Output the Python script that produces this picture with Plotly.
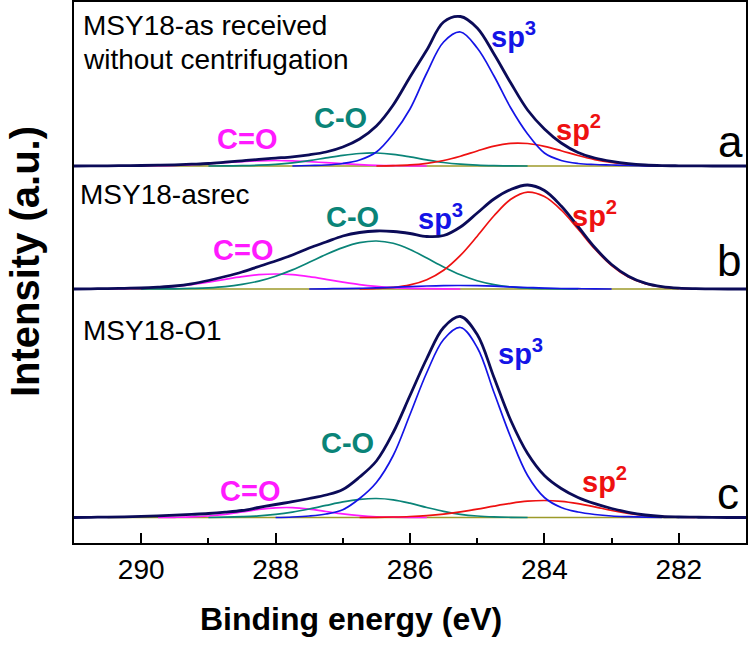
import plotly.graph_objects as go

N = None
# Binding energy grid (eV)
energy = [291.0, 290.75, 290.5, 290.25, 290.0, 289.75, 289.5, 289.25, 289.0, 288.75,
          288.5, 288.25, 288.0, 287.75, 287.5, 287.25, 287.0, 286.75, 286.5, 286.25,
          286.0, 285.75, 285.5, 285.25, 285.0, 284.75, 284.5, 284.25, 284.0, 283.75,
          283.5, 283.25, 283.0, 282.75, 282.5, 282.25, 282.0, 281.75, 281.5, 281.25, 281.0]

# ---- Panel a: MSY18-as received without centrifugation ----
total_a = [0, 0.1, 0.2, 0.35, 0.5, 0.8, 1.2, 1.8, 2.5, 3.8, 5.2, 6.6, 7.9, 9.2, 11.2, 14, 19, 27, 40, 61,
           89, 116, 144, 149.5, 138, 112, 83, 56, 37, 23, 13.5, 8, 4.6, 2.3, 1.0, 0.4, 0.2, 0.1, 0, 0, 0]
sp3_a = [N]*13 + [0, 0.5, 1, 2.5, 6, 14, 32, 57, 93, 124, 134, 118, 90, 58, 32, 13, 5.5, 2.5, 1.5, 1,
                  0.5, 0.2, 0] + [N]*5
sp2_a = [N]*18 + [0, 0.4, 1.1, 2.7, 5.5, 9.8, 15.0, 19.9, 22.7, 22.5, 19.7, 15.3, 10.5, 6.4, 3.5, 1.7,
                  0.7, 0.2, 0] + [N]*4
co_a = [N]*8 + [0, 0.1, 0.3, 0.8, 1.7, 3.2, 5.4, 8.1, 10.7, 12.5, 13.0, 11.7, 9.1, 6.1, 3.5, 1.8, 0.8,
                0.3, 0.1, 0] + [N]*13
cdo_a = [N]*3 + [0, 0.2, 0.35, 0.7, 1.4, 2.3, 3.3, 4.4, 5.2, 5.5, 5.2, 4.4, 3.3, 2.3, 1.4, 0.7, 0.35,
                 0.2, 0] + [N]*19

# ---- Panel b: MSY18-asrec ----
total_b = [0, 0.2, 0.4, 0.7, 1.0, 1.8, 3.0, 5.2, 8.5, 12.5, 17, 22.5, 28, 34, 41, 47, 53, 56.5, 58, 57.5,
           55.5, 52.5, 53.5, 62, 76, 90, 99.5, 104, 98.5, 83, 62.5, 41.5, 24.5, 12.8, 5.8, 2.3, 0.8, 0.3,
           0.1, 0, 0]
sp3_b = [N]*14 + [0, 0.2, 0.4, 0.7, 1.1, 1.7, 2.4, 3.0, 3.4, 3.5, 3.3, 2.8, 2.1, 1.5, 0.9, 0.5, 0.3,
                  0.1, 0] + [N]*8
sp2_b = [N]*17 + [0, 0.5, 1.6, 4.1, 9.3, 18.8, 33.6, 52.8, 73.2, 89.7, 96.9, 92.4, 79, 60, 40, 23.5,
                  12, 5.3, 2.1, 0.7, 0.2, 0] + [N]*2
co_b = [N]*4 + [0, 0.1, 0.2, 0.6, 1.2, 2.4, 4.6, 7.9, 12.8, 19.1, 26.7, 34.5, 41.4, 46.3, 48, 45.7,
                39.5, 30.9, 22.0, 14.2, 8.3, 4.4, 2.1, 0.9, 0.4, 0.1, 0] + [N]*10
cdo_b = [N]*1 + [0, 0.1, 0.3, 0.7, 1.4, 2.6, 4.4, 6.9, 9.7, 12.3, 14.3, 15, 14.3, 12.3, 9.7, 6.9, 4.4,
                 2.6, 1.4, 0.7, 0.3, 0.1, 0] + [N]*17

# ---- Panel c: MSY18-O1 ----
total_c = [0, 0.2, 0.4, 0.7, 1.1, 1.6, 2.3, 3.1, 4.0, 5.3, 7, 10, 13, 15.8, 19, 22.5, 28, 40.5, 56.5, 85,
           122, 159, 190, 201, 183, 140, 97, 64, 42, 29, 20, 13.8, 9, 5.2, 2.5, 1.0, 0.5, 0.3, 0.1, 0, 0]
sp3_c = [N]*12 + [0, 0.5, 1.5, 3.5, 7.8, 19, 35, 62, 103, 145, 178, 190, 170, 125, 80, 42, 20, 10, 5.5,
                  3, 1.5, 0.8, 0.3, 0] + [N]*5
sp2_c = [N]*17 + [0, 0.2, 0.5, 1.0, 1.9, 3.4, 5.6, 8.3, 11.4, 14.2, 16.3, 17, 16.1, 13.8, 10.6, 7.0,
                  4.2, 2.0, 0.8, 0.3, 0] + [N]*3
co_c = [N]*8 + [0, 0.3, 0.8, 1.6, 3.1, 5.4, 8.5, 12.1, 15.6, 18.1, 19, 17.7, 14.3, 10.0, 6.1, 3.2, 1.5,
                0.6, 0.2, 0] + [N]*13
cdo_c = [N]*5 + [0, 0.2, 0.6, 1.5, 3.1, 5.5, 8.0, 9.7, 9.9, 8.4, 6.0, 3.6, 1.8, 0.7, 0.3, 0.1, 0] + [N]*19

baseline_energy = [290.5, 282.0]
baseline_level = [0, 0]

panel_names = ["a", "b", "c"]
sample_labels = ["MSY18-as received|without centrifugation", "MSY18-asrec", "MSY18-O1"]

# ---- styling ----
FONT = "Liberation Sans, Arial, sans-serif"
C_TOTAL = "#0b0b58"
C_SP3 = "#1414e6"
C_SP2 = "#ee1111"
C_CO = "#0a8478"
C_CDO = "#ff1aff"
C_BASE = "#9c9a2a"
offsets = {"a": 377, "b": 254, "c": 25.5}

panels = {
    "a": dict(total=total_a, sp3=sp3_a, sp2=sp2_a, co=co_a, cdo=cdo_a),
    "b": dict(total=total_b, sp3=sp3_b, sp2=sp2_b, co=co_b, cdo=cdo_b),
    "c": dict(total=total_c, sp3=sp3_c, sp2=sp2_c, co=co_c, cdo=cdo_c),
}


def shift(vals, off):
    return [None if v is None else v + off for v in vals]


fig = go.Figure()
for p in panel_names:
    off = offsets[p]
    d = panels[p]
    fig.add_trace(go.Scatter(x=baseline_energy, y=shift(baseline_level, off), mode="lines",
                             line=dict(color=C_BASE, width=1.6), hoverinfo="skip"))
    for key, col in (("cdo", C_CDO), ("co", C_CO), ("sp2", C_SP2), ("sp3", C_SP3)):
        fig.add_trace(go.Scatter(x=energy, y=shift(d[key], off), mode="lines",
                                 line=dict(color=col, width=1.7, shape="spline"),
                                 connectgaps=False))
    fig.add_trace(go.Scatter(x=energy, y=shift(d["total"], off), mode="lines",
                             line=dict(color=C_TOTAL, width=2.8, shape="spline")))

ann = []


def label(x, y, text, color, size, xanchor="center"):
    ann.append(dict(x=x, y=y, xref="x", yref="y", text=text, showarrow=False,
                    font=dict(family=FONT, size=size, color=color), xanchor=xanchor,
                    yanchor="middle"))


# sample names
l1, l2 = sample_labels[0].split("|")
label(290.89, 518, l1, "black", 28, "left")
label(290.89, 484, l2, "black", 28, "left")
label(290.94, 349, sample_labels[1], "black", 28, "left")
label(290.90, 213, sample_labels[2], "black", 28, "left")

# component labels
LS = 29
label(288.42, 404, "<b>C=O</b>", C_CDO, LS)
label(287.04, 425, "<b>C-O</b>", C_CO, LS)
label(284.46, 508, "<b>sp<sup>3</sup></b>", C_SP3, LS)
label(283.50, 415, "<b>sp<sup>2</sup></b>", C_SP2, LS)

label(288.48, 293, "<b>C=O</b>", C_CDO, LS)
label(286.86, 326, "<b>C-O</b>", C_CO, LS)
label(285.55, 326, "<b>sp<sup>3</sup></b>", C_SP3, LS)
label(283.25, 329, "<b>sp<sup>2</sup></b>", C_SP2, LS)

label(288.38, 52, "<b>C=O</b>", C_CDO, LS)
label(286.93, 100, "<b>C-O</b>", C_CO, LS)
label(284.35, 191, "<b>sp<sup>3</sup></b>", C_SP3, LS)
label(283.10, 63, "<b>sp<sup>2</sup></b>", C_SP2, LS)

# panel letters
label(281.23, 402, panel_names[0], "black", 44)
label(281.25, 283, panel_names[1], "black", 44)
label(281.27, 50, panel_names[2], "black", 44)

# axis titles
ann.append(dict(x=0.412, y=-0.140, xref="paper", yref="paper", showarrow=False,
                text="<b>Binding energy (eV)</b>", font=dict(family=FONT, size=32, color="black"),
                xanchor="center", yanchor="middle"))
ann.append(dict(x=-0.073, y=0.521, xref="paper", yref="paper", showarrow=False, textangle=-90,
                text="<b>Intensity (a.u.)</b>", font=dict(family=FONT, size=40, color="black"),
                xanchor="center", yanchor="middle"))

fig.update_layout(
    width=750, height=650,
    margin=dict(l=74, r=4, t=2, b=107, autoexpand=False),
    plot_bgcolor="white", paper_bgcolor="white",
    showlegend=False,
    annotations=ann,
    xaxis=dict(range=[291, 281], tickmode="linear", tick0=282, dtick=2,
               ticks="inside", ticklen=10, tickwidth=1.5, tickcolor="black",
               showline=True, linewidth=2, linecolor="black", mirror=True,
               showgrid=False, zeroline=False, automargin=False,
               tickfont=dict(family=FONT, size=28, color="black"),
               minor=dict(ticks="inside", ticklen=5, tickwidth=1.5, tickcolor="black",
                          tick0=281, dtick=1, showgrid=False)),
    yaxis=dict(range=[0, 541], showticklabels=False, ticks="", automargin=False,
               showline=True, linewidth=2, linecolor="black", mirror=True,
               showgrid=False, zeroline=False),
)

fig.write_html("out.html", config={"displayModeBar": False},
               post_script="document.body.style.margin='0';")
